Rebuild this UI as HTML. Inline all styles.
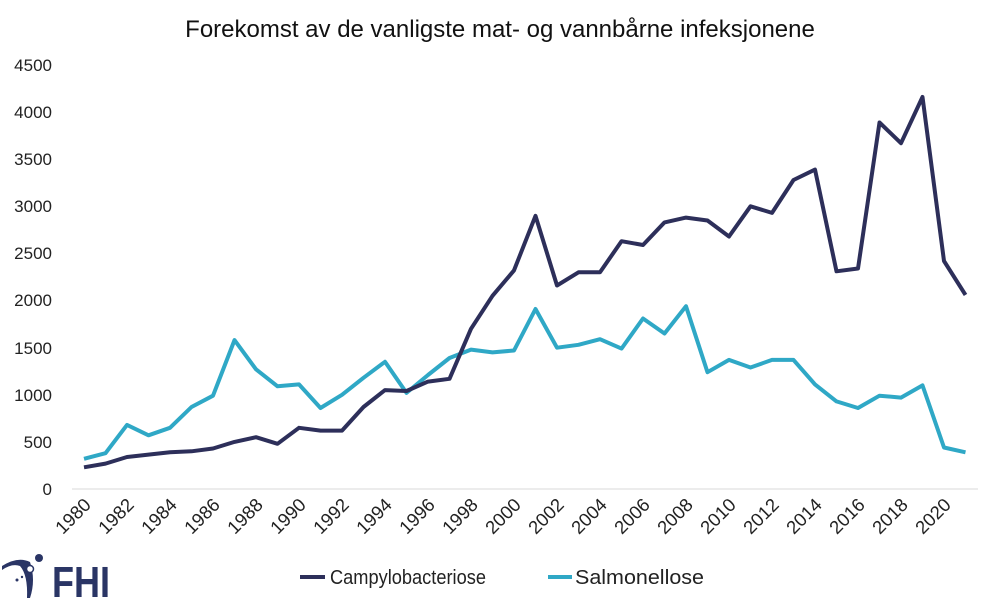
<!DOCTYPE html>
<html><head><meta charset="utf-8"><style>
body{margin:0;background:#fff;width:1000px;height:604px;overflow:hidden;font-family:"Liberation Sans",sans-serif}
</style></head><body>
<svg id="s" width="1000" height="604" xmlns="http://www.w3.org/2000/svg" font-family="Liberation Sans, sans-serif">
<text x="500" y="37" font-size="24" text-anchor="middle" fill="#111">Forekomst av de vanligste mat- og vannbårne infeksjonene</text>
<g font-size="17" fill="#222" text-anchor="end">
<text x="52" y="495">0</text><text x="52" y="448">500</text><text x="52" y="401">1000</text><text x="52" y="354">1500</text><text x="52" y="306">2000</text><text x="52" y="259">2500</text><text x="52" y="212">3000</text><text x="52" y="165">3500</text><text x="52" y="118">4000</text><text x="52" y="71">4500</text>
</g>
<line x1="72" y1="489" x2="978" y2="489" stroke="#d9d9d9" stroke-width="1"/>
<g font-size="18.5" fill="#222" text-anchor="end">
<text transform="translate(92,506) rotate(-45)">1980</text>
<text transform="translate(135,506) rotate(-45)">1982</text>
<text transform="translate(178,506) rotate(-45)">1984</text>
<text transform="translate(221,506) rotate(-45)">1986</text>
<text transform="translate(264,506) rotate(-45)">1988</text>
<text transform="translate(307,506) rotate(-45)">1990</text>
<text transform="translate(350,506) rotate(-45)">1992</text>
<text transform="translate(393,506) rotate(-45)">1994</text>
<text transform="translate(436,506) rotate(-45)">1996</text>
<text transform="translate(479,506) rotate(-45)">1998</text>
<text transform="translate(522,506) rotate(-45)">2000</text>
<text transform="translate(565,506) rotate(-45)">2002</text>
<text transform="translate(608,506) rotate(-45)">2004</text>
<text transform="translate(651,506) rotate(-45)">2006</text>
<text transform="translate(694,506) rotate(-45)">2008</text>
<text transform="translate(737,506) rotate(-45)">2010</text>
<text transform="translate(780,506) rotate(-45)">2012</text>
<text transform="translate(823,506) rotate(-45)">2014</text>
<text transform="translate(866,506) rotate(-45)">2016</text>
<text transform="translate(909,506) rotate(-45)">2018</text>
<text transform="translate(952,506) rotate(-45)">2020</text>
</g>
<polyline id="sal" fill="none" stroke="#2fa8c6" stroke-width="4" stroke-linejoin="round"/>
<polyline id="cam" fill="none" stroke="#2d2f5a" stroke-width="4" stroke-linejoin="round"/>
<line x1="300" y1="577" x2="325" y2="577" stroke="#2d2f5a" stroke-width="4"/>
<text x="330" y="584" font-size="20" fill="#222" textLength="156" lengthAdjust="spacingAndGlyphs">Campylobacteriose</text>
<line x1="548" y1="577" x2="572" y2="577" stroke="#2fa8c6" stroke-width="4"/>
<text x="575" y="584" font-size="20" fill="#222" textLength="129" lengthAdjust="spacingAndGlyphs">Salmonellose</text>
<g fill="#2a3565">
<path d="M2 566 Q18 556 30 562 Q36 580 30 598 L27 598 Q28 575 20 566 Q12 563 2 570 Z"/>
<circle cx="39" cy="558" r="4"/>
<circle cx="30" cy="569" r="3.5" fill="#fff" stroke="#2a3565" stroke-width="1.5"/>
<circle cx="17" cy="580" r="1.5"/><circle cx="22" cy="577" r="1.2"/>
<text x="52" y="597" font-size="44" font-weight="bold" textLength="58" lengthAdjust="spacingAndGlyphs">FHI</text>
</g>
</svg>
<script>
var c=[230,270,340,365,390,400,430,500,550,480,650,620,620,870,1050,1040,1140,1170,1700,2050,2320,2900,2160,2300,2300,2630,2590,2830,2880,2850,2680,3000,2930,3280,3390,2310,2340,3890,3670,4160,2420,2060];
var s=[320,380,680,570,650,870,990,1580,1270,1090,1110,860,1000,1180,1350,1020,1210,1390,1480,1450,1470,1910,1500,1530,1590,1490,1810,1650,1940,1240,1370,1290,1370,1370,1110,930,860,990,970,1100,440,390];
function p(a){return a.map(function(v,i){return (84+i*21.5).toFixed(1)+","+(489-v*424/4500).toFixed(1)}).join(" ")}
document.getElementById("cam").setAttribute("points",p(c));
document.getElementById("sal").setAttribute("points",p(s));
</script>
</body></html>
